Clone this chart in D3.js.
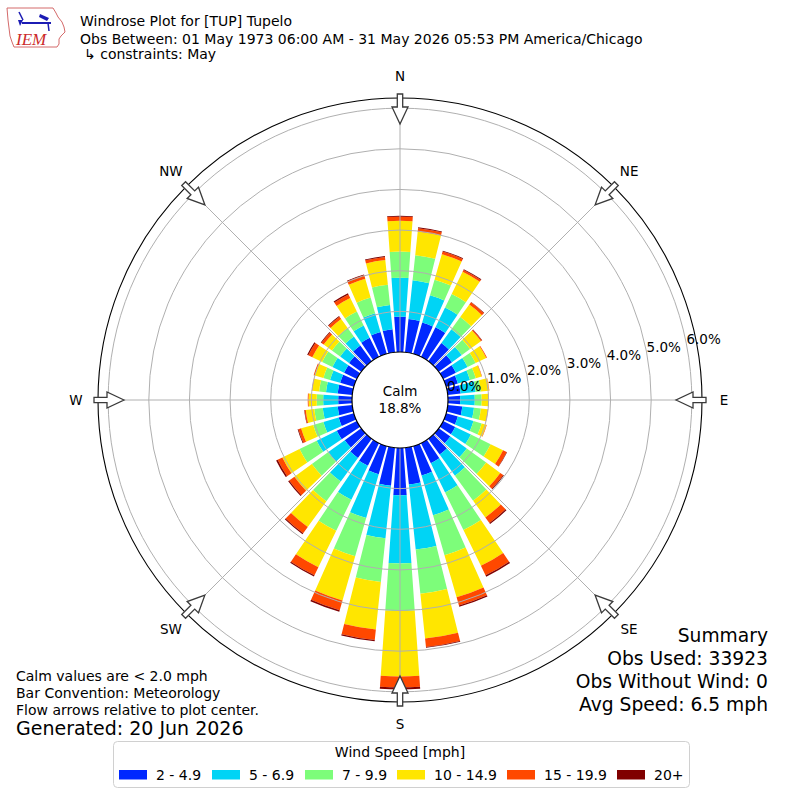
<!DOCTYPE html>
<html>
<head>
<meta charset="utf-8">
<script src="https://cdn.jsdelivr.net/npm/d3@7"></script>
<style>
  body { margin: 0; background: #fff; }
  svg { font-family: "DejaVu Sans", sans-serif; }
</style>
</head>
<body>
<div id="chart"></div>
<script>
// wind direction bins (degrees, meteorological convention)
const directions = [0, 10, 20, 30, 40, 50, 60, 70, 80, 90, 100, 110, 120, 130, 140, 150, 160, 170,
  180, 190, 200, 210, 220, 230, 240, 250, 260, 270, 280, 290, 300, 310, 320, 330, 340, 350];

const speedBins = ["2 - 4.9", "5 - 6.9", "7 - 9.9", "10 - 14.9", "15 - 19.9", "20+"];
const binColors = ["#0028ff", "#00d4f5", "#7dfd7a", "#ffe600", "#ff4800", "#800000"];

// percent of observations per direction, one array per speed class
const spd2to5 = [0.87, 0.82, 0.80, 0.81, 0.55, 0.40, 0.35, 0.30, 0.32, 0.30, 0.36, 0.30, 0.33, 0.35, 0.48, 0.55, 0.75, 0.91,
  1.16, 0.94, 0.72, 0.62, 0.58, 0.50, 0.55, 0.39, 0.36, 0.34, 0.36, 0.35, 0.35, 0.37, 0.48, 0.52, 0.56, 0.57];
const spd5to7 = [0.96, 0.96, 0.70, 0.54, 0.42, 0.30, 0.32, 0.31, 0.37, 0.36, 0.29, 0.40, 0.43, 0.50, 0.64, 0.80, 1.02, 1.61,
  1.68, 1.30, 1.12, 0.93, 0.72, 0.51, 0.55, 0.39, 0.37, 0.37, 0.29, 0.26, 0.32, 0.27, 0.27, 0.34, 0.48, 0.60];
const spd7to10 = [0.64, 0.62, 0.40, 0.37, 0.37, 0.25, 0.22, 0.15, 0.13, 0.17, 0.17, 0.21, 0.54, 0.59, 0.76, 1.03, 1.02, 1.09,
  1.17, 1.08, 0.98, 0.85, 0.60, 0.49, 0.47, 0.26, 0.21, 0.16, 0.17, 0.17, 0.28, 0.25, 0.26, 0.38, 0.40, 0.50];
const spd10to15 = [0.76, 0.59, 0.65, 0.61, 0.38, 0.33, 0.29, 0.15, 0.20, 0.16, 0.17, 0.12, 0.34, 0.43, 0.51, 0.98, 1.08, 1.11,
  1.61, 1.18, 1.13, 1.00, 0.78, 0.53, 0.47, 0.31, 0.21, 0.20, 0.17, 0.22, 0.27, 0.25, 0.27, 0.37, 0.48, 0.61];
const spd15to20 = [0.10, 0.08, 0.07, 0.05, 0.07, 0.03, 0.02, 0.01, 0.01, 0.01, 0.01, 0.01, 0.10, 0.09, 0.17, 0.26, 0.21, 0.21,
  0.27, 0.26, 0.25, 0.22, 0.19, 0.16, 0.13, 0.07, 0.03, 0.02, 0.01, 0.03, 0.11, 0.07, 0.07, 0.10, 0.09, 0.08];
const spd20up = [0.02, 0.02, 0.02, 0.02, 0.01, 0.01, 0.00, 0.00, 0.00, 0.00, 0.00, 0.00, 0.01, 0.02, 0.03, 0.04, 0.03, 0.02,
  0.05, 0.03, 0.04, 0.03, 0.03, 0.03, 0.04, 0.02, 0.01, 0.00, 0.00, 0.00, 0.03, 0.02, 0.02, 0.03, 0.02, 0.02];

const calmPct = 18.8;
const ringTicks = [0, 1, 2, 3, 4, 5, 6];
const compassLabels = ["N", "NE", "E", "SE", "S", "SW", "W", "NW"];
const compassAngles = [0, 45, 90, 135, 180, 225, 270, 315];

const titleLines = ["Windrose Plot for [TUP] Tupelo",
  "Obs Between: 01 May 1973 06:00 AM - 31 May 2026 05:53 PM America/Chicago",
  "\u21b3 constraints: May"];
const noteLines = ["Calm values are < 2.0 mph", "Bar Convention: Meteorology", "Flow arrows relative to plot center."];
const generatedText = "Generated: 20 Jun 2026";
const summaryLines = ["Summary", "Obs Used: 33923", "Obs Without Wind: 0", "Avg Speed: 6.5 mph"];

// layout
const width = 800, height = 800;
const cx = 400, cy = 400;
const calmR = 48, outerR = 302;
const barHalf = 4; // degrees each side of the bin centre

const rad = (d) => (d * Math.PI) / 180;

const svg = d3.select("#chart").append("svg")
  .attr("width", width).attr("height", height);

const r = d3.scaleLinear().domain([0, 6.25]).range([calmR, outerR]);

const keys = ["s0", "s1", "s2", "s3", "s4", "s5"];
const series = [spd2to5, spd5to7, spd7to10, spd10to15, spd15to20, spd20up];
const rows = directions.map(function (dir, i) {
  const row = { dir: dir };
  keys.forEach((k, j) => (row[k] = series[j][i]));
  return row;
});
const stacked = d3.stack().keys(keys)(rows);

const g = svg.append("g").attr("transform", `translate(${cx},${cy})`);

const arc = d3.arc()
  .innerRadius((d) => r(d[0]))
  .outerRadius((d) => r(d[1]))
  .startAngle((d) => rad(d.data.dir - barHalf))
  .endAngle((d) => rad(d.data.dir + barHalf));

// bars
g.selectAll("g.layer")
  .data(stacked)
  .enter()
  .append("g")
  .attr("class", "layer")
  .attr("fill", (d, i) => binColors[i])
  .selectAll("path")
  .data((d) => d)
  .enter()
  .append("path")
  .attr("d", arc);

// grid rings and spokes drawn over the bars
g.selectAll("circle.ring")
  .data(ringTicks.slice(1))
  .enter()
  .append("circle")
  .attr("r", (d) => r(d))
  .attr("fill", "none")
  .attr("stroke", "#b0b0b0")
  .attr("stroke-width", 1);

g.selectAll("line.spoke")
  .data(compassAngles)
  .enter()
  .append("line")
  .attr("x1", 0).attr("y1", 0)
  .attr("x2", (d) => outerR * Math.sin(rad(d)))
  .attr("y2", (d) => -outerR * Math.cos(rad(d)))
  .attr("stroke", "#b0b0b0")
  .attr("stroke-width", 1);

// outer frame
g.append("circle").attr("r", outerR)
  .attr("fill", "none").attr("stroke", "#000").attr("stroke-width", 1.1);

// calm circle
g.append("circle").attr("r", calmR)
  .attr("fill", "#fff").attr("stroke", "#000").attr("stroke-width", 1.2);
g.append("text").attr("x", 0).attr("y", -4).attr("text-anchor", "middle")
  .style("font-size", "13.5px").text("Calm");
g.append("text").attr("x", 0).attr("y", 13).attr("text-anchor", "middle")
  .style("font-size", "13.5px").text(calmPct.toFixed(1) + "%");

// ring labels
const labelAngle = 79; // bearing of the label line
g.selectAll("text.rlab")
  .data(ringTicks)
  .enter()
  .append("text")
  .attr("x", (d) => r(d) * Math.sin(rad(labelAngle)))
  .attr("y", (d) => -r(d) * Math.cos(rad(labelAngle)))
  .style("font-size", "13.5px")
  .text((d) => d.toFixed(1) + "%");

// flow arrows pointing at the centre
const arrowPath = "M0,-276 L8,-293 L2.7,-293 L2.7,-306 L-2.7,-306 L-2.7,-293 L-8,-293 Z";
g.selectAll("path.arrow")
  .data(compassAngles)
  .enter()
  .append("path")
  .attr("d", arrowPath)
  .attr("transform", (d) => `rotate(${d})`)
  .attr("fill", "#fff")
  .attr("stroke", "#3a3a3a")
  .attr("stroke-width", 1.3)
  .attr("stroke-linejoin", "miter");

// compass labels
g.selectAll("text.dir")
  .data(compassAngles)
  .enter()
  .append("text")
  .attr("x", (d) => 324 * Math.sin(rad(d)))
  .attr("y", (d) => -324 * Math.cos(rad(d)))
  .attr("text-anchor", "middle")
  .attr("dominant-baseline", "central")
  .style("font-size", "13.5px")
  .text((d, i) => compassLabels[i]);

// title block
svg.selectAll("text.title")
  .data(titleLines)
  .enter()
  .append("text")
  .attr("x", (d, i) => (i === 2 ? 84 : 80))
  .attr("y", (d, i) => [26, 43.5, 59][i])
  .style("font-size", "14px")
  .text((d) => d);

// IEM logo (simplified)
const logo = svg.append("g");
logo.append("path")
  .attr("d", "M7,8 L53,8 L56,13 L58,17 L62,22 L64,27 L65,32 L61,36 L59,39 L59,44 L57,47 L14,47 L12,42 L10,36 L9,28 L8,20 Z")
  .attr("fill", "none").attr("stroke", "#d46a6a").attr("stroke-width", 1);
logo.append("line").attr("x1", 22).attr("y1", 23).attr("x2", 51).attr("y2", 23)
  .attr("stroke", "#1c1cb4").attr("stroke-width", 2);
logo.append("path").attr("d", "M40,14 L49,18 L47,21 L39,17 Z").attr("fill", "#1c1cb4");
logo.append("path").attr("d", "M18,20 L23,20 L20,26 Z").attr("fill", "#1c1cb4");
logo.append("line").attr("x1", 19).attr("y1", 12).attr("x2", 23).attr("y2", 20)
  .attr("stroke", "#1c1cb4").attr("stroke-width", 1.5);
logo.append("line").attr("x1", 48).attr("y1", 23).attr("x2", 49).attr("y2", 31)
  .attr("stroke", "#1c1cb4").attr("stroke-width", 1.5);
logo.append("text").attr("x", 16).attr("y", 45)
  .style("font-family", "'Liberation Serif', serif").style("font-style", "italic")
  .style("font-size", "17px").attr("fill", "#cc2a2a").text("IEM");

// notes, bottom left
svg.selectAll("text.note")
  .data(noteLines)
  .enter()
  .append("text")
  .attr("x", 16)
  .attr("y", (d, i) => 681 + i * 17)
  .style("font-size", "14px")
  .text((d) => d);
svg.append("text").attr("x", 16).attr("y", 735)
  .style("font-size", "19px").text(generatedText);

// summary, bottom right
svg.selectAll("text.summary")
  .data(summaryLines)
  .enter()
  .append("text")
  .attr("x", 768)
  .attr("y", (d, i) => 642 + i * 23)
  .attr("text-anchor", "end")
  .style("font-size", "18.7px")
  .text((d) => d);

// legend
const legend = svg.append("g");
legend.append("rect")
  .attr("x", 113.5).attr("y", 741.5).attr("width", 576).attr("height", 46)
  .attr("rx", 4).attr("fill", "#fff").attr("stroke", "#d0d0d0");
legend.append("text").attr("x", 400).attr("y", 757).attr("text-anchor", "middle")
  .style("font-size", "14px").text("Wind Speed [mph]");
const itemX = [119, 212, 305, 397, 507, 617];
const items = legend.selectAll("g.item")
  .data(speedBins)
  .enter()
  .append("g")
  .attr("transform", (d, i) => `translate(${itemX[i]},770)`);
items.append("rect").attr("width", 28).attr("height", 9.5)
  .attr("fill", (d, i) => binColors[i]);
items.append("text").attr("x", 37).attr("y", 10)
  .style("font-size", "14px").text((d) => d);
</script>
</body>
</html>
